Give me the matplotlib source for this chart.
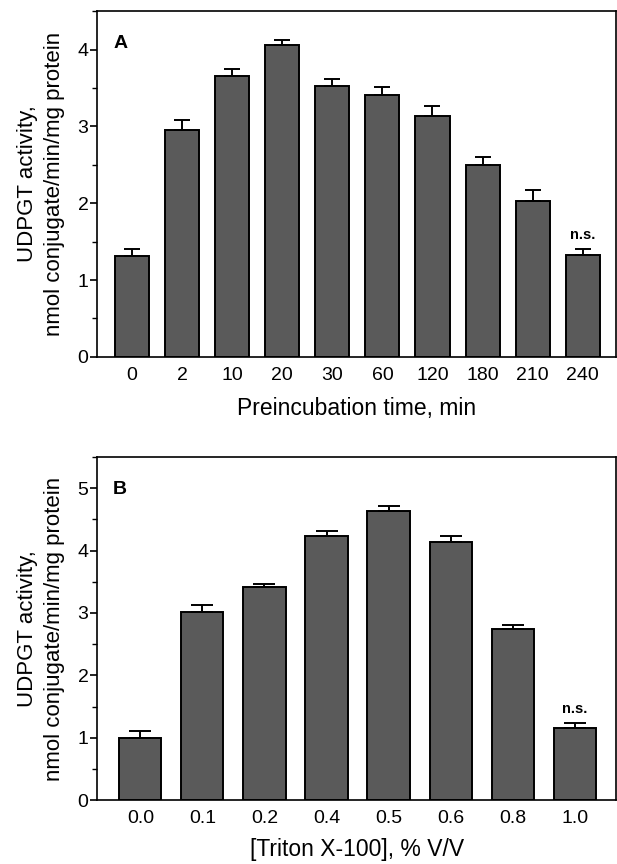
import numpy as np
import matplotlib.pyplot as plt

plt.rcParams['font.family'] = ['Liberation Sans', 'DejaVu Sans']

# panel A: preincubation time
time_labels = ['0', '2', '10', '20', '30', '60', '120', '180', '210', '240']
act_a = [1.31, 2.96, 3.66, 4.06, 3.53, 3.41, 3.13, 2.50, 2.03, 1.33]
err_a = [0.10, 0.12, 0.09, 0.06, 0.09, 0.10, 0.14, 0.10, 0.14, 0.08]

# panel B: Triton X-100 concentration
triton_labels = ['0.0', '0.1', '0.2', '0.4', '0.5', '0.6', '0.8', '1.0']
act_b = [1.00, 3.01, 3.42, 4.23, 4.64, 4.14, 2.74, 1.15]
err_b = [0.10, 0.11, 0.05, 0.09, 0.08, 0.09, 0.07, 0.08]

ylab = 'UDPGT activity,\nnmol conjugate/min/mg protein'
bar_col = '#5a5a5a'


def panel(ax, labels, vals, errs, ymax, letter, xlabel, cap, xpad):
    x = np.arange(len(vals))
    ax.bar(x, vals, width=0.68, color=bar_col, edgecolor='black', linewidth=1.4, zorder=2)
    ax.errorbar(x, vals, yerr=[np.zeros(len(errs)), errs], fmt='none',
                ecolor='black', elinewidth=1.4, capsize=cap, capthick=1.4, zorder=3)
    ax.set_xlim(-0.69, len(vals) - 1 + 0.66)
    ax.set_ylim(0, ymax)
    ax.set_xticks(x)
    ax.set_xticklabels(labels)
    ax.set_yticks(np.arange(0, int(ymax) + 1))
    ax.set_yticks(np.arange(0, ymax + 0.01, 0.5), minor=True)
    ax.tick_params(axis='x', length=0, labelsize=14, pad=7)
    ax.tick_params(axis='y', which='major', length=5, width=1.2, labelsize=14, pad=1.5)
    ax.tick_params(axis='y', which='minor', length=3.5, width=1.0)
    for s in ax.spines.values():
        s.set_linewidth(1.2)
    ax.set_ylabel(ylab, fontsize=16, linespacing=1.35, labelpad=9)
    ax.set_xlabel(xlabel, fontsize=16.5, labelpad=xpad)
    ax.text(0.03, 0.93, letter, transform=ax.transAxes, fontsize=14,
            fontweight='bold', va='top', ha='left')
    # last bar is not significant
    ax.annotate('n.s.', (x[-1], vals[-1] + errs[-1]), xytext=(0, 5),
                textcoords='offset points', ha='center', va='bottom',
                fontsize=10.5, fontweight='bold')


fig = plt.figure(figsize=(6.17, 8.64), dpi=100)
ax1 = fig.add_axes([0.158, 0.587, 0.840, 0.400])
ax2 = fig.add_axes([0.158, 0.074, 0.840, 0.397])

panel(ax1, time_labels, act_a, err_a, 4.5, 'A', 'Preincubation time, min', 5.5, 10)
panel(ax2, triton_labels, act_b, err_b, 5.5, 'B', '[Triton X-100], % V/V', 8, 8)

fig.savefig('out.png', dpi=100)
